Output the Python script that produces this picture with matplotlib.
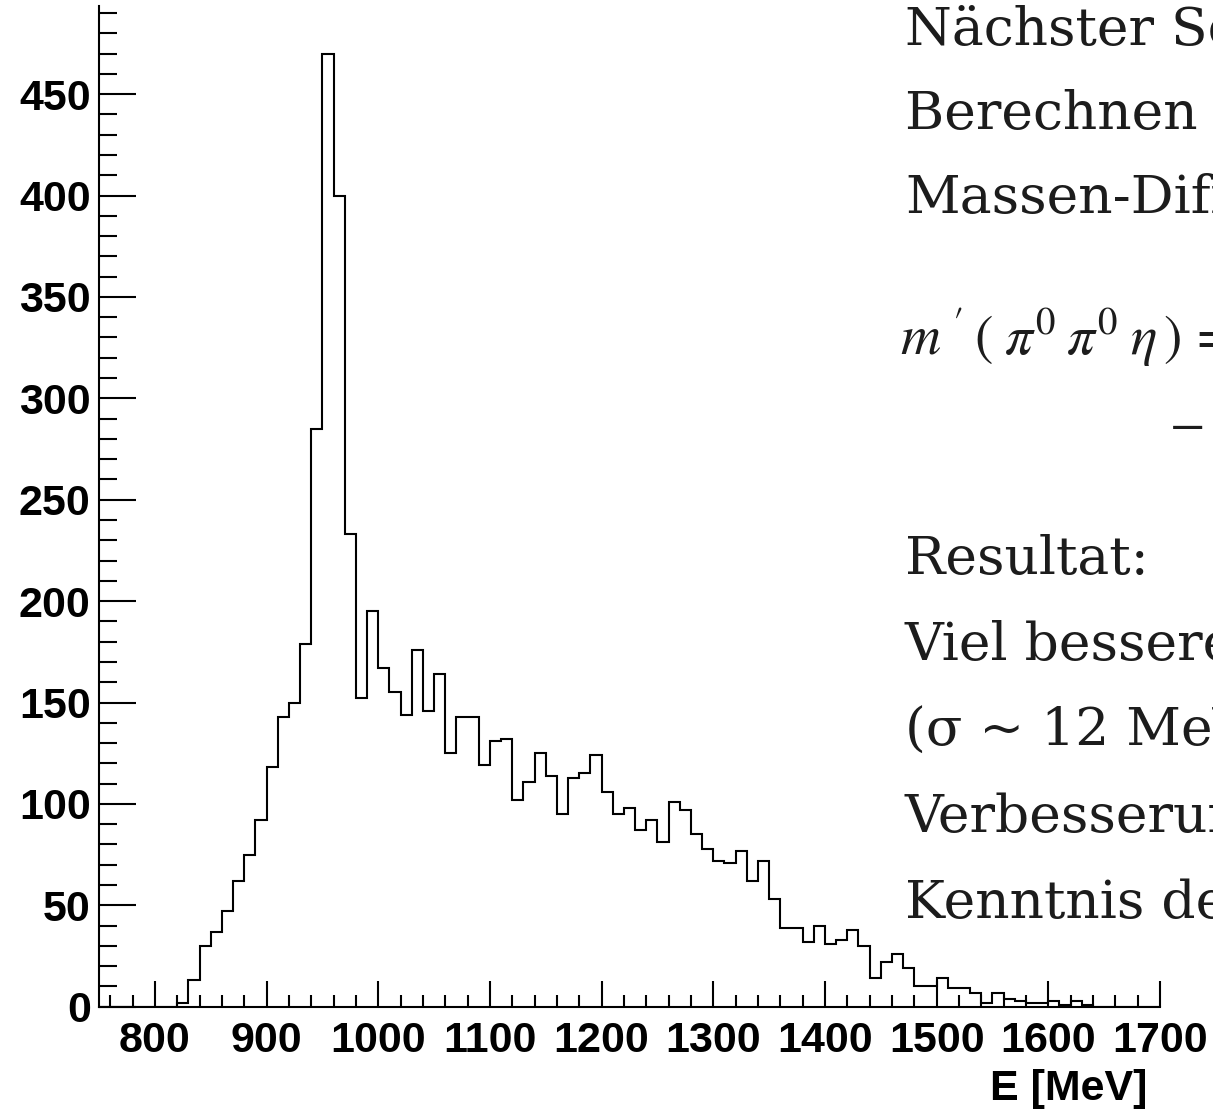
import numpy as np
import matplotlib
matplotlib.use("Agg")
import matplotlib.pyplot as plt
from matplotlib.ticker import MultipleLocator
from matplotlib.font_manager import FontProperties

# ---- data (10 MeV bins starting at 820 MeV) ----
bin_start = 820
bin_width = 10
counts = [2, 13, 30, 37, 47, 62, 75, 92, 118, 143,
          150, 179, 285, 470, 400, 233, 152, 195, 167, 155,
          144, 176, 146, 164, 125, 143, 143, 119, 131, 132,
          102, 111, 125, 114, 95, 113, 115, 124, 106, 95,
          98, 87, 92, 81, 101, 97, 85, 78, 72, 71,
          77, 62, 72, 53, 39, 39, 32, 40, 31, 33,
          38, 30, 14, 22, 26, 19, 10, 10, 14, 9,
          9, 7, 2, 7, 4, 3, 2, 2, 3, 1,
          3, 1]
x_range = (750, 1700)
y_max = 493.5
x_label = "E [MeV]"

text_lines = ["Nächster Schritt:", "Berechnen der", "Massen-Differenz:"]
text_lines2 = ["Resultat:", "Viel bessere Auflösung", "(σ ~ 12 MeV)",
               "Verbesserung durch", "Kenntnis der"]
formula = r"$m\;'\:(\;\pi^{0}\:\pi^{0}\;\eta\,)\,=$"

# ---- figure ----
W, H = 1213, 1109
plt.rcParams['mathtext.fontset'] = 'stix'
fig = plt.figure(figsize=(W / 100, H / 100), dpi=100)

ax = fig.add_axes([99 / W, (H - 1006.7) / H, 1061 / W, 1000.8 / H])

edges = np.concatenate(([x_range[0]],
                        bin_start + bin_width * np.arange(len(counts) + 1),
                        [x_range[1]]))
vals = np.concatenate(([0], counts, [0]))
ax.stairs(vals, edges, color='black', linewidth=1.5, baseline=0)

ax.set_xlim(*x_range)
ax.set_ylim(0, y_max)
for s in ['top', 'right']:
    ax.spines[s].set_visible(False)
for s in ['left', 'bottom']:
    ax.spines[s].set_linewidth(1.5)

ax.xaxis.set_major_locator(MultipleLocator(100))
ax.xaxis.set_minor_locator(MultipleLocator(20))
ax.yaxis.set_major_locator(MultipleLocator(50))
ax.yaxis.set_minor_locator(MultipleLocator(10))

lab_fp = FontProperties(family='Liberation Sans', weight='bold', size=31)
ax.tick_params(axis='x', which='major', direction='in', length=18.5, width=1.5, pad=10.5)
ax.tick_params(axis='x', which='minor', direction='in', length=8.9, width=1.5)
ax.tick_params(axis='y', which='major', direction='in', length=26.4, width=1.5, pad=6)
ax.tick_params(axis='y', which='minor', direction='in', length=12.7, width=1.5)
for lab in ax.get_xticklabels() + ax.get_yticklabels():
    lab.set_fontproperties(lab_fp)

fig.text(1147 / W, (H - 1100) / H, x_label, ha='right', va='baseline',
         fontfamily='Liberation Sans', fontweight='bold', fontsize=31)

serif = dict(fontfamily='DejaVu Serif', fontsize=38.5, color='#1c1c1c',
             ha='left', va='baseline')
for i, t in enumerate(text_lines):
    fig.text(905 / W, (H - (45 + 84 * i)) / H, t, **serif)
for i, t in enumerate(text_lines2):
    fig.text(905 / W, (H - (574 + 86 * i)) / H, t, **serif)

fig.text(900 / W, (H - 355) / H, formula, fontsize=40, color='#1c1c1c',
         ha='left', va='baseline')
fig.text(1170 / W, (H - 433) / H, "\u2212", fontfamily='Liberation Serif',
         fontsize=45, color='#1c1c1c', ha='left', va='center')

fig.savefig("out.png", dpi=100)
